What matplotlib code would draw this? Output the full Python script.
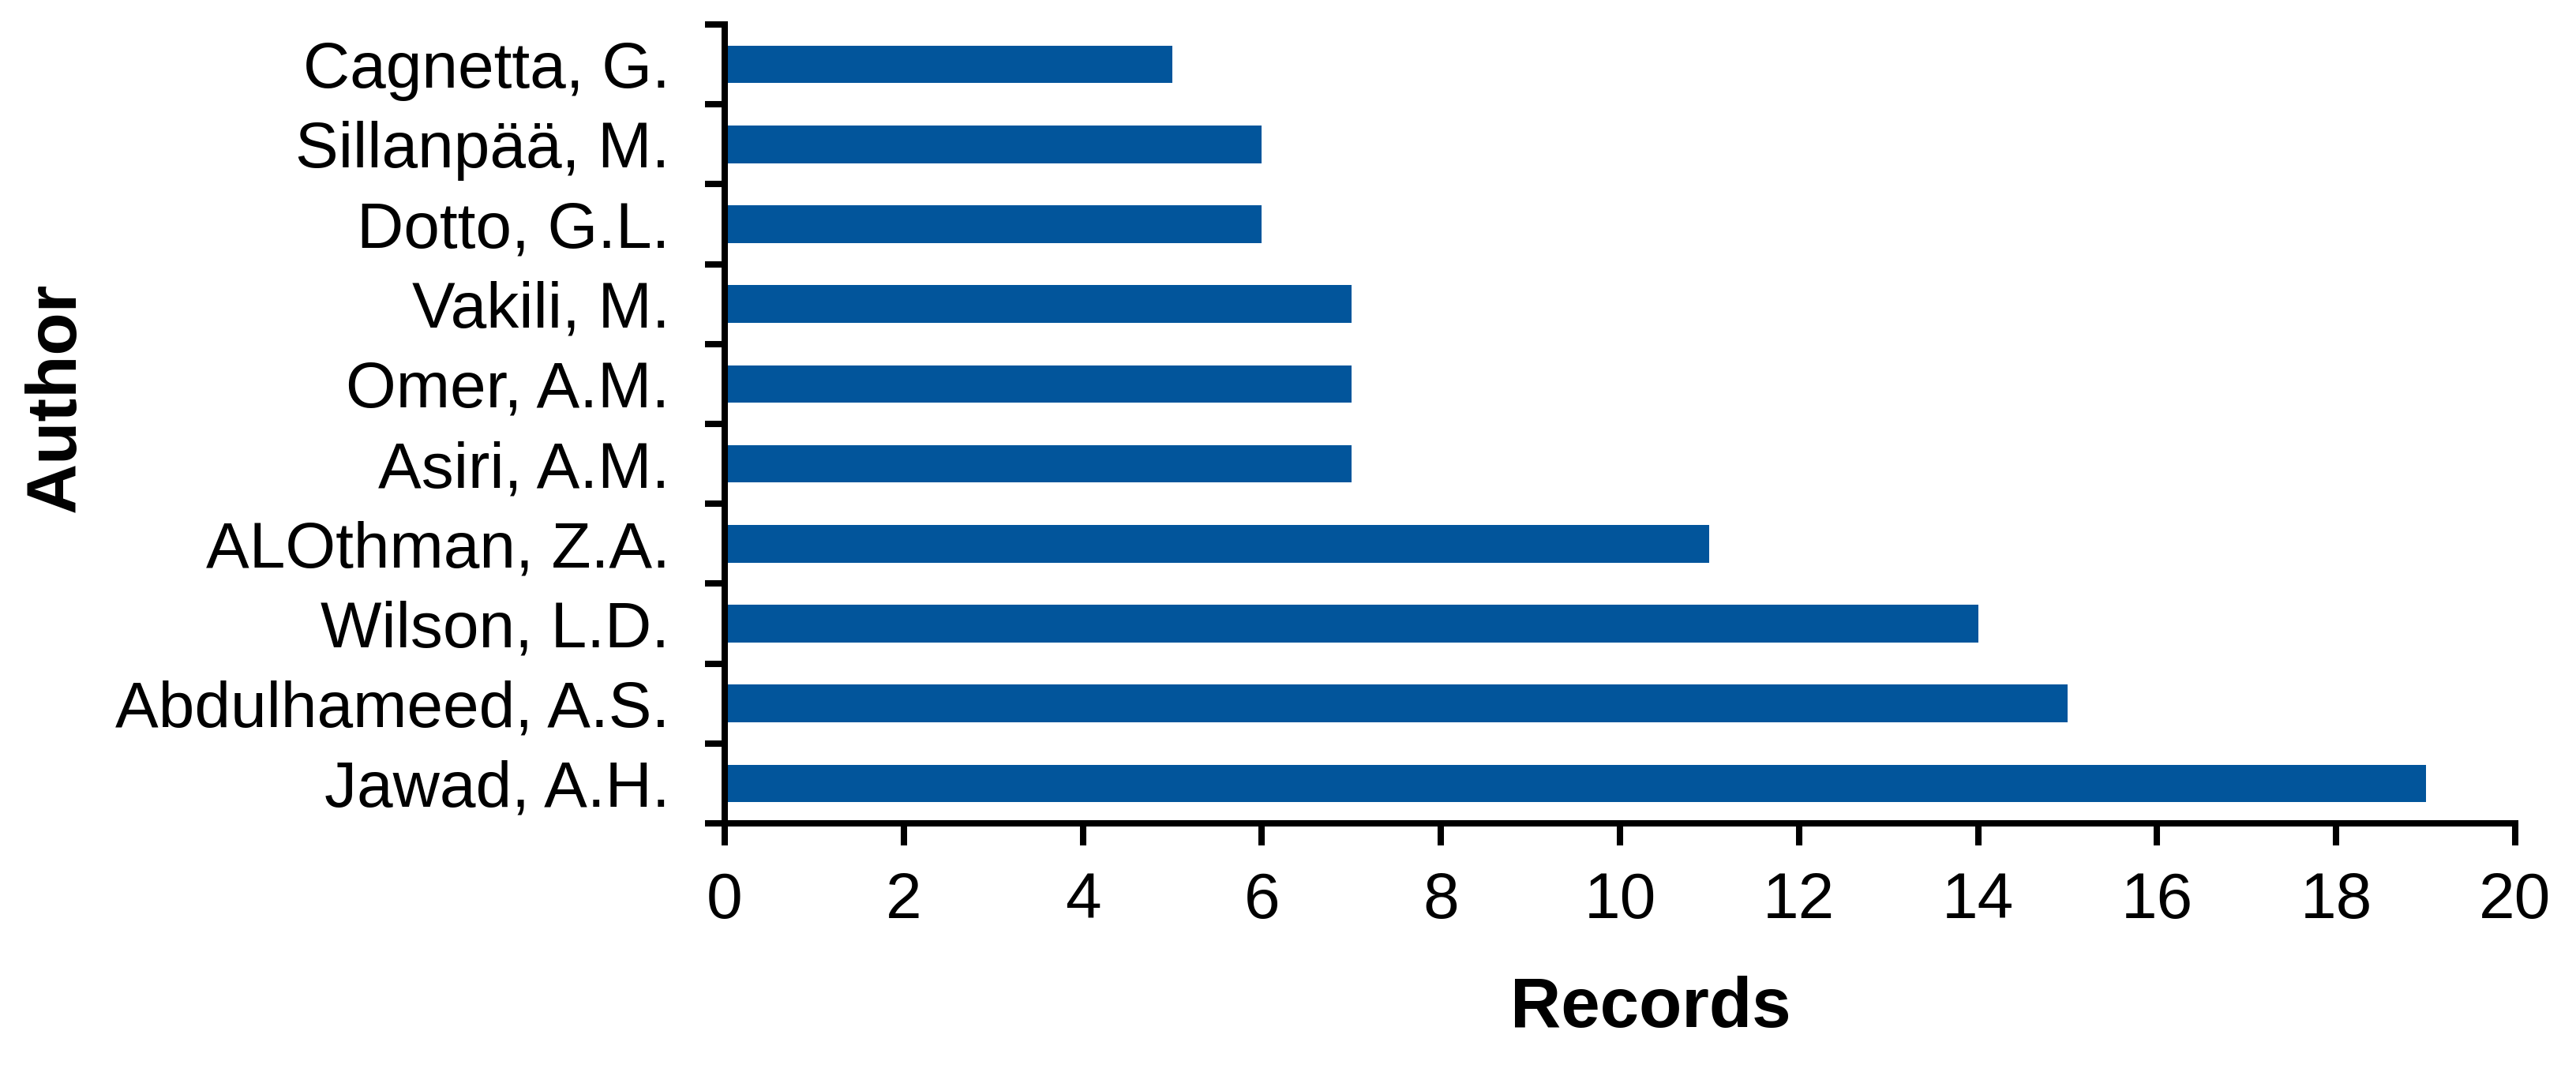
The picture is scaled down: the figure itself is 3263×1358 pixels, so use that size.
import numpy as np
import matplotlib
matplotlib.use("Agg")
import matplotlib.pyplot as plt

# top-10 authors by record count
authors = ["Jawad, A.H.", "Abdulhameed, A.S.", "Wilson, L.D.", "ALOthman, Z.A.",
           "Asiri, A.M.", "Omer, A.M.", "Vakili, M.", "Dotto, G.L.",
           "Sillanpää, M.", "Cagnetta, G."]
records = [19, 15, 14, 11, 7, 7, 7, 6, 6, 5]
xticks = [0, 2, 4, 6, 8, 10, 12, 14, 16, 18, 20]

bar_color = "#02559B"
lw = 5.8

plt.rcParams['font.family'] = ['Liberation Sans', 'DejaVu Sans']

fig = plt.figure(figsize=(32.63, 13.58), dpi=100)
ax = fig.add_axes([0.2813, 0.232, 0.9764 - 0.2813, 0.9772 - 0.232])

y = np.arange(len(authors))
ax.barh(y, records, height=0.47, color=bar_color)

ax.set_xlim(0, 20)
ax.set_ylim(-0.5, len(authors) - 0.5)
ax.set_xticks(xticks)
ax.set_xticklabels([str(t) for t in xticks], fontsize=59)
ax.set_yticks(y)
ax.set_yticklabels(authors, fontsize=59)
ax.set_yticks(np.arange(-0.5, len(authors)), minor=True)

ax.tick_params(axis='x', which='major', direction='out', length=20, width=lw, pad=24)
ax.tick_params(axis='y', which='major', length=0, pad=50)
ax.tick_params(axis='y', which='minor', direction='out', length=18, width=lw)

for s in ['top', 'right']:
    ax.spines[s].set_visible(False)
for s in ['left', 'bottom']:
    ax.spines[s].set_linewidth(lw)

ax.set_xlabel("Records", fontsize=64, fontweight='bold', labelpad=40)
ax.xaxis.label.set_x(0.517)
fig.text(0.022, 0.629, "Author", fontsize=64, fontweight='bold', rotation=90,
         ha='center', va='center')

fig.savefig("out.png", dpi=100)
